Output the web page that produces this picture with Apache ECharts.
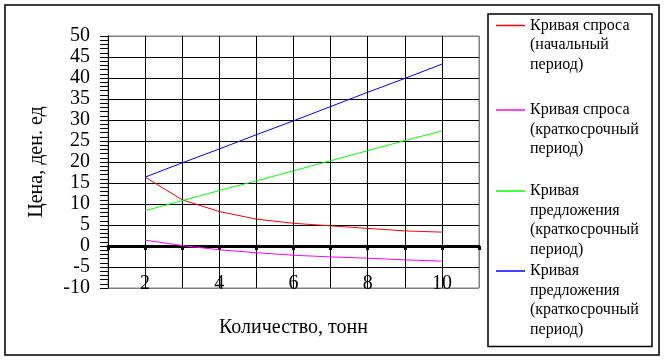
<!DOCTYPE html>
<html><head><meta charset="utf-8">
<script src="https://cdn.jsdelivr.net/npm/echarts@6/dist/echarts.min.js"></script>
<style>html,body{margin:0;padding:0;background:#fff}#c{width:664px;height:360px}</style>
</head><body><div id="c"></div>
<script>
const quantities = [2, 3, 4, 5, 6, 7, 8, 9, 10];
const demandInitial = [16.4, 11.0, 8.2, 6.4, 5.4, 4.8, 4.2, 3.6, 3.3];
const demandShort = [1.4, 0.1, -0.9, -1.6, -2.2, -2.6, -2.9, -3.3, -3.6];
const supplyShortA = [8.4, 10.8, 13.2, 15.5, 17.9, 20.3, 22.7, 25.1, 27.4];
const supplyShortB = [16.4, 19.8, 23.1, 26.5, 29.8, 33.2, 36.6, 39.9, 43.3];
const xTickLabels = ['2', '4', '6', '8', '10'];
const seriesNames = [
  'Кривая спроса (начальный период)',
  'Кривая спроса (краткосрочный период)',
  'Кривая предложения (краткосрочный период)',
  'Кривая предложения (краткосрочный период) '
];
const legendLines = [
  ['Кривая спроса', '(начальный', 'период)'],
  ['Кривая спроса', '(краткосрочный', 'период)'],
  ['Кривая', 'предложения', '(краткосрочный', 'период)'],
  ['Кривая', 'предложения', '(краткосрочный', 'период)']
];
const seriesValues = [demandInitial, demandShort, supplyShortA, supplyShortB];
const seriesColors = ['#ff0000', '#ff00ff', '#00ff00', '#0000ff'];
const legendIconY = [25.5, 110, 191, 271];
const LH = 19.5;
const FONT = 'Liberation Serif';

const chart = echarts.init(document.getElementById('c'), null, {renderer: 'canvas'});

const xSplitColors = quantities.map(() => '#000').concat(['#000', '#808080']);
const ySplitColors = ['#808080'].concat(new Array(11).fill('#000'), ['#808080']);

chart.setOption({
  animation: false,
  backgroundColor: '#fff',
  grid: {left: 108, right: 185, top: 36, bottom: 72, show: true, borderColor: '#808080', borderWidth: 1,
         containLabel: false, outerBoundsMode: 'none'},
  xAxis: {
    type: 'value', min: 1, max: 11, interval: 1,
    name: 'Количество, тонн', nameLocation: 'middle', nameGap: 30,
    nameTextStyle: {fontFamily: FONT, fontSize: 20, color: '#000'},
    axisLine: {onZero: true, lineStyle: {color: '#000', width: 3}},
    axisTick: {show: true, length: 4, lineStyle: {color: '#000', width: 3}},
    axisLabel: {
      margin: -14, fontFamily: FONT, fontSize: 20, color: '#000',
      formatter: v => xTickLabels.indexOf(String(v)) >= 0 ? String(v) : ''
    },
    splitLine: {show: true, lineStyle: {color: xSplitColors, width: 1}}
  },
  yAxis: {
    type: 'value', min: -10, max: 50, interval: 5,
    name: 'Цена, ден. ед', nameLocation: 'middle', nameGap: 61,
    nameTextStyle: {fontFamily: FONT, fontSize: 20, color: '#000'},
    axisLine: {show: true, onZero: false, lineStyle: {color: '#000', width: 1}},
    axisTick: {show: true, length: 8, lineStyle: {color: '#000', width: 1}},
    minorTick: {show: true, splitNumber: 5, length: 8, lineStyle: {color: '#000', width: 1}},
    axisLabel: {margin: 18, fontFamily: FONT, fontSize: 20, color: '#000', showMinLabel: true, showMaxLabel: true, hideOverlap: false},
    splitLine: {show: true, lineStyle: {color: ySplitColors, width: 1}}
  },
  legend: legendLines.map((lines, i) => ({
    data: [seriesNames[i]],
    orient: 'vertical', left: 496,
    top: legendIconY[i] - (2 * lines.length - 1) * LH / 2,
    padding: 0, itemGap: 0, itemWidth: 29, itemHeight: 1.5, icon: 'rect',
    selectedMode: false,
    formatter: () => '\n'.repeat(lines.length - 1) + lines.join('\n'),
    textStyle: {fontFamily: FONT, fontSize: 16, color: '#000', lineHeight: LH}
  })),
  graphic: [
    {type: 'rect', shape: {x: 5, y: 5, width: 654, height: 350}, style: {fill: 'none', stroke: '#000', lineWidth: 1.5}, silent: true, z: -1},
    {type: 'rect', shape: {x: 488, y: 14, width: 164, height: 332.5}, style: {fill: 'none', stroke: '#000', lineWidth: 1.5}, silent: true, z: -1}
  ],
  series: seriesValues.map((vals, i) => ({
    name: seriesNames[i], type: 'line', symbol: 'none', showSymbol: false,
    color: seriesColors[i],
    lineStyle: {color: seriesColors[i], width: 1},
    data: quantities.map((q, j) => [q, vals[j]])
  }))
});
</script>
</body></html>
